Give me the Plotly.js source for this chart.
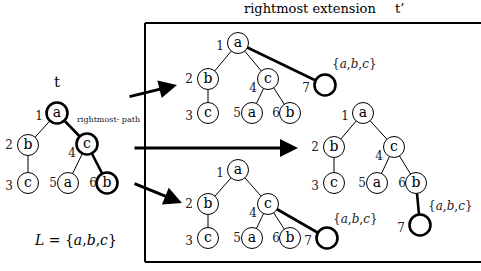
<!DOCTYPE html>
<html>
<head>
<meta charset="utf-8">
<script src="https://cdn.plot.ly/plotly-3.0.1.min.js"></script>
<style>html,body{margin:0;padding:0;background:#fff;}#chart{width:481px;height:271px;}</style>
</head>
<body>
<div id="chart"></div>
<script>
// ---- data: tree structure ----
var nodeLabels = ["a", "b", "c", "c", "a", "b", ""];      // node 1..7
var nodeNumbers = ["1", "2", "3", "4", "5", "6", "7"];
var parents = [null, 0, 1, 0, 3, 3, null];               // parent index (node 7 set per tree)
var extLabel = "{<i>a</i>,<i>b</i>,<i>c</i>}";

// ---- tree layouts (diagram geometry) ----
var treeT = {x: [57, 28, 28, 87, 68, 107], y: [113, 145, 183, 144, 183, 183], bold: [0, 3, 5], boldEdges: [[0, 3], [3, 5]], n: 6};
var treeTop = {x: [238, 208, 208, 268, 252, 290, 325], y: [43, 79, 113, 79, 113, 113, 85], parent7: 0, bold: [6], boldEdges: [[0, 6]], n: 7, ext: [354, 64]};
var treeRight = {x: [363, 334, 334, 394, 377, 416, 420], y: [113, 147, 183, 147, 183, 183, 225], parent7: 5, bold: [6], boldEdges: [[5, 6]], n: 7, ext: [450, 206]};
var treeBottom = {x: [238, 208, 208, 268, 252, 290, 327], y: [170, 204, 238, 204, 238, 238, 238], parent7: 3, bold: [6], boldEdges: [[3, 6]], n: 7, ext: [355, 219]};
var numOffX = [-18, -19, -19, -15, -15, -14, -19];
var numOffY = [4, 1, 4, 10, 1, 1, 4];

var traces = [];
var serif = "DejaVu Serif";

function addTree(t) {
  for (var i = 0; i < t.n; i++) {
    var p = (i === 6) ? t.parent7 : parents[i];
    if (p === null || p === undefined) continue;
    var isBold = t.boldEdges.some(function (e) { return e[0] === p && e[1] === i; });
    traces.push({type: "scatter", mode: "lines", x: [t.x[p], t.x[i]], y: [t.y[p], t.y[i]],
      line: {color: "#000", width: isBold ? 2.6 : 1}, hoverinfo: "skip", showlegend: false});
  }
  var lw = [], lab = [];
  for (var j = 0; j < t.n; j++) {
    lw.push(t.bold.indexOf(j) >= 0 ? 2.6 : 1);
    lab.push(nodeLabels[j]);
  }
  traces.push({type: "scatter", mode: "markers+text", x: t.x.slice(0, t.n), y: t.y.slice(0, t.n),
    text: lab, textposition: "middle center",
    textfont: {family: serif, size: 14, color: "#000"},
    marker: {size: 21, color: "#fff", line: {color: "#000", width: lw}},
    hoverinfo: "skip", showlegend: false, cliponaxis: false});
  var nx = [], ny = [];
  for (var k = 0; k < t.n; k++) {
    nx.push(t.x[k] + numOffX[k]);
    ny.push(t.y[k] + numOffY[k]);
  }
  traces.push({type: "scatter", mode: "text", x: nx, y: ny, text: nodeNumbers.slice(0, t.n),
    textposition: "middle center", textfont: {family: serif, size: 12, color: "#222"},
    hoverinfo: "skip", showlegend: false, cliponaxis: false});
}
[treeT, treeTop, treeRight, treeBottom].forEach(addTree);

var annotations = [
  {x: 57, y: 82, text: "t", font: {family: serif, size: 15, color: "#000"}},
  {x: 108, y: 119, text: "rightmost- path", font: {family: serif, size: 8, color: "#222"}},
  {x: 75, y: 240, text: "<i>L</i> = {<i>a</i>,<i>b</i>,<i>c</i>}", font: {family: serif, size: 14, color: "#000"}},
  {x: 310, y: 8, text: "rightmost extension", font: {family: serif, size: 13, color: "#000"}},
  {x: 399, y: 8, text: "t’", font: {family: serif, size: 13, color: "#000"}}
];
[treeTop, treeRight, treeBottom].forEach(function (t) {
  annotations.push({x: t.ext[0], y: t.ext[1], text: extLabel, font: {family: serif, size: 12, color: "#222"}});
});
annotations.forEach(function (a) { a.xref = "x"; a.yref = "y"; a.showarrow = false; });

var arrows = [[128, 97, 177, 85], [133, 148, 298, 148], [133, 183, 182, 203]];
arrows.forEach(function (a) {
  annotations.push({x: a[2], y: a[3], ax: a[0], ay: a[1], xref: "x", yref: "y", axref: "x", ayref: "y",
    text: "", showarrow: true, arrowhead: 2, arrowsize: 1.2, arrowwidth: 3, arrowcolor: "#000", standoff: 0});
});

var shapes = [
  {type: "line", x0: 145, y0: 23, x1: 145, y1: 262},
  {type: "line", x0: 145, y0: 23, x1: 485, y1: 23},
  {type: "line", x0: 145, y0: 262, x1: 485, y1: 262}
];
shapes.forEach(function (s) { s.xref = "x"; s.yref = "y"; s.line = {color: "#000", width: 2}; s.layer = "below"; });

var layout = {
  width: 481, height: 271,
  margin: {l: 0, r: 0, t: 0, b: 0},
  paper_bgcolor: "#fff", plot_bgcolor: "#fff",
  font: {family: serif},
  xaxis: {range: [0, 481], visible: false, fixedrange: true},
  yaxis: {range: [271, 0], visible: false, fixedrange: true},
  showlegend: false,
  annotations: annotations,
  shapes: shapes
};
Plotly.newPlot("chart", traces, layout, {staticPlot: true, displayModeBar: false});
</script>
</body>
</html>
